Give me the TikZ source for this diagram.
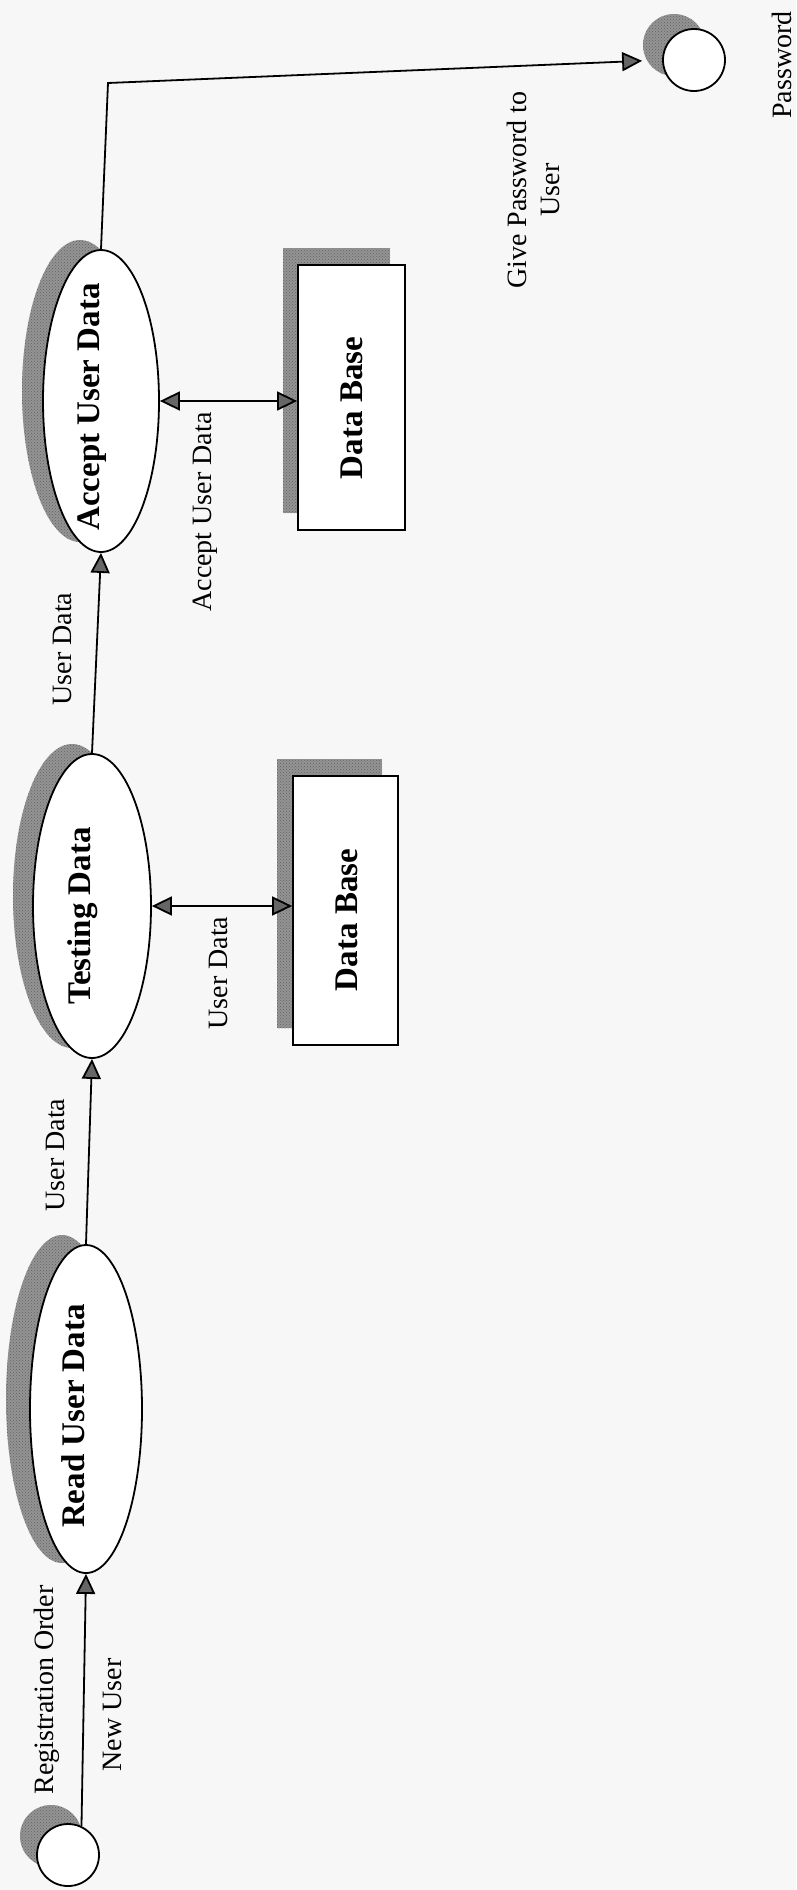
\documentclass[tikz,border=0pt]{standalone}
\usepackage{fontspec}
\setmainfont{Liberation Serif}
\usetikzlibrary{shapes.geometric,arrows.meta,calc,patterns}
\begin{document}
\begin{tikzpicture}[x=1pt,y=-1pt,
  line width=1.8pt,
  grain/.style={fill=black!42,draw=none,postaction={pattern=crosshatch dots,pattern color=black!62}},
  proc/.style={ellipse,draw,fill=white,inner sep=0pt},
  procshadow/.style={ellipse,grain,inner sep=0pt},
  store/.style={rectangle,draw,fill=white,inner sep=0pt},
  storeshadow/.style={rectangle,grain,inner sep=0pt},
  term/.style={circle,draw,fill=white,inner sep=0pt,minimum size=62pt},
  termshadow/.style={circle,grain,inner sep=0pt,minimum size=62pt},
  lbl/.style={rotate=90,font=\fontsize{28}{33}\selectfont,inner sep=0pt},
  title/.style={rotate=90,font=\fontsize{33}{38}\selectfont\bfseries,inner sep=0pt},
  flow/.style={-{Triangle[length=20pt,width=19pt,fill=black!60]}},
  both/.style={{Triangle[length=20pt,width=19pt,fill=black!60]}-{Triangle[length=20pt,width=19pt,fill=black!60]}}
]
% paper and page frame
\fill[black!3] (0,0) rectangle (796,1890);
\useasboundingbox (0,0) rectangle (796,1890);

% external entity: new user
\node[termshadow] (startsh) at (51,1836) {};
\node[term] (start) at (68,1855) {};

% processes
\node[procshadow,minimum width=112pt,minimum height=328pt] (readsh) at (62,1399) {};
\node[proc,minimum width=112pt,minimum height=328pt] (read) at (86,1409) {};
\node[title] (readtxt) at (73,1416) {Read User Data};

\node[procshadow,minimum width=118pt,minimum height=304pt] (testsh) at (72,896) {};
\node[proc,minimum width=118pt,minimum height=304pt] (test) at (92,906) {};
\node[title] (testtxt) at (83,916) {Testing Data};

\node[procshadow,minimum width=116pt,minimum height=302pt] (accsh) at (80,391) {};
\node[proc,minimum width=116pt,minimum height=302pt] (acc) at (101,401) {};
\node[title] (acctxt) at (92,407) {Accept User Data};

% data stores
\node[storeshadow,minimum width=105pt,minimum height=269pt] (db1sh) at (329.5,893.5) {};
\node[store,minimum width=105pt,minimum height=269pt] (db1) at (345.5,910.5) {};
\node[title] (db1txt) at (347,920) {Data Base};

\node[storeshadow,minimum width=107pt,minimum height=265pt] (db2sh) at (336.5,380.5) {};
\node[store,minimum width=107pt,minimum height=265pt] (db2) at (351.5,397.5) {};
\node[title] (db2txt) at (352,408) {Data Base};

% external entity: password
\node[termshadow] (pwsh) at (674,45) {};
\node[term] (pw) at (694,60) {};

% flows
\draw[flow] (start.65) -- (read.south);
\draw[flow] (read.north) -- (test.south);
\draw[flow] (test.north) -- (acc.south);
\draw[both] (test.east) -- (test.east -| db1.west);
\draw[both] (acc.east) -- (acc.east -| db2.west);
\coordinate (bend) at (108,83);
\draw[flow,shorten >=20pt] (acc.north) -- (bend) -- (pw.west);

% flow labels
\node[lbl] (l1) at (47,1690) {Registration Order};
\node[lbl] (l2) at (112,1715) {New User};
\node[lbl] (l3) at (55,1155) {User Data};
\node[lbl] (l4) at (218,973) {User Data};
\node[lbl] (l5) at (62,649) {User Data};
\node[lbl] (l6) at (205,512) {Accept User Data};
\node[lbl,align=center] (l7) at (533,190) {Give Password to\\User};
\node[lbl] (l8) at (782,65) {Password};
\end{tikzpicture}
\end{document}
